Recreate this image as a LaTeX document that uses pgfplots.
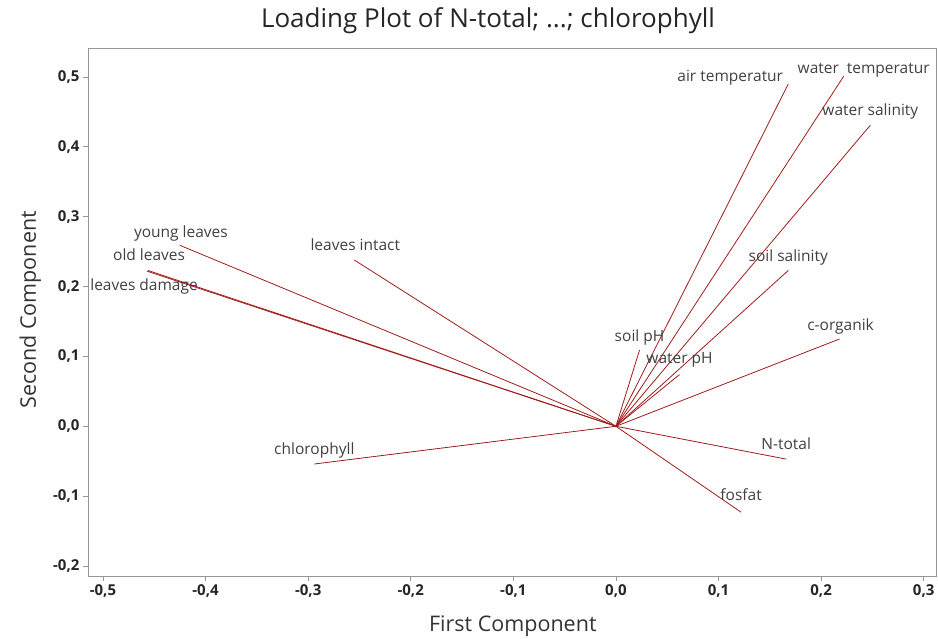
\documentclass[border=0pt]{standalone}
\usepackage{pgfplots}
\pgfplotsset{compat=1.18}
\usepackage{fontspec}
\setmainfont{Open Sans}
\definecolor{vec}{RGB}{160,28,28}
\definecolor{lbl}{RGB}{64,64,64}
\definecolor{axg}{RGB}{150,150,150}
\begin{document}
\begin{tikzpicture}
\begin{axis}[
  scale only axis, width=848pt, height=528pt,
  xmin=-0.5146, xmax=0.312, ymin=-0.2143, ymax=0.5415,
  xtick={-0.5,-0.4,-0.3,-0.2,-0.1,0,0.1,0.2,0.3},
  ytick={-0.2,-0.1,0,0.1,0.2,0.3,0.4,0.5},
  tick align=outside, tick pos=left,
  major tick length=5pt,
  axis line style={axg, line width=0.9pt},
  every tick/.style={axg, line width=0.8pt},
  /pgf/number format/.cd, use comma, fixed, fixed zerofill, precision=1, assume math mode=true,
  /pgfplots/.cd,
  ticklabel style={font=\fontsize{15}{17}\selectfont\bfseries, text=black!85},
  title={Loading Plot of N-total; ...; chlorophyll},
  title style={at={(axis description cs:0.4717,1.040)}, anchor=center, font=\fontsize{26}{29}\selectfont, text=black!85},
  xlabel={First Component},
  ylabel={Second Component},
  xlabel style={at={(axis description cs:0.501,-0.0947)}, anchor=center, font=\fontsize{21.5}{24}\selectfont, text=black!80},
  ylabel style={at={(axis description cs:-0.068,0.504)}, anchor=center, font=\fontsize{21.5}{24}\selectfont, text=black!80},
  clip=false,
]
\addplot[vec, line width=0.8pt, no marks] coordinates {(0,0) (0.168,0.490)};
\addplot[vec, line width=0.8pt, no marks] coordinates {(0,0) (0.222,0.501)};
\addplot[vec, line width=0.8pt, no marks] coordinates {(0,0) (0.248,0.431)};
\addplot[vec, line width=0.8pt, no marks] coordinates {(0,0) (0.168,0.223)};
\addplot[vec, line width=0.8pt, no marks] coordinates {(0,0) (0.218,0.125)};
\addplot[vec, line width=0.8pt, no marks] coordinates {(0,0) (0.023,0.109)};
\addplot[vec, line width=0.8pt, no marks] coordinates {(0,0) (0.062,0.074)};
\addplot[vec, line width=0.8pt, no marks] coordinates {(0,0) (0.166,-0.047)};
\addplot[vec, line width=0.8pt, no marks] coordinates {(0,0) (0.122,-0.123)};
\addplot[vec, line width=0.8pt, no marks] coordinates {(0,0) (-0.294,-0.054)};
\addplot[vec, line width=0.8pt, no marks] coordinates {(0,0) (-0.255,0.238)};
\addplot[vec, line width=0.8pt, no marks] coordinates {(0,0) (-0.425,0.259)};
\addplot[vec, line width=0.8pt, no marks] coordinates {(0,0) (-0.456,0.223)};
\addplot[vec, line width=0.8pt, no marks] coordinates {(0,0) (-0.457,0.222)};
\begin{scope}[every node/.style={font=\fontsize{15.5}{17}\selectfont, text=lbl, inner sep=0pt}]
\node[anchor=base east, xshift=-5pt, yshift=2pt] at (axis cs:0.168,0.490) {air temperatur};
\node[anchor=base, xshift=20pt, yshift=3pt] at (axis cs:0.222,0.501) {water\ \ temperatur};
\node[anchor=base, yshift=10pt] at (axis cs:0.248,0.431) {water salinity};
\node[anchor=base, yshift=9pt] at (axis cs:0.168,0.223) {soil salinity};
\node[anchor=base, yshift=8pt, xshift=1pt] at (axis cs:0.218,0.125) {c-organik};
\node[anchor=base, yshift=9pt] at (axis cs:0.023,0.109) {soil pH};
\node[anchor=base, yshift=11pt] at (axis cs:0.062,0.074) {water pH};
\node[anchor=base, yshift=10pt] at (axis cs:0.166,-0.047) {N-total};
\node[anchor=base, yshift=12pt] at (axis cs:0.122,-0.123) {fosfat};
\node[anchor=base, yshift=10pt] at (axis cs:-0.294,-0.054) {chlorophyll};
\node[anchor=base, yshift=10pt, xshift=1pt] at (axis cs:-0.255,0.238) {leaves intact};
\node[anchor=base, yshift=8pt, xshift=1pt] at (axis cs:-0.425,0.259) {young leaves};
\node[anchor=base, yshift=10pt, xshift=1pt] at (axis cs:-0.456,0.223) {old leaves};
\node[anchor=base, yshift=-19pt, xshift=-3pt] at (axis cs:-0.457,0.222) {leaves damage};
\end{scope}
\end{axis}
\pgfresetboundingbox
\path (-88pt,-63pt) rectangle (850pt,576pt);
\end{tikzpicture}
\end{document}
